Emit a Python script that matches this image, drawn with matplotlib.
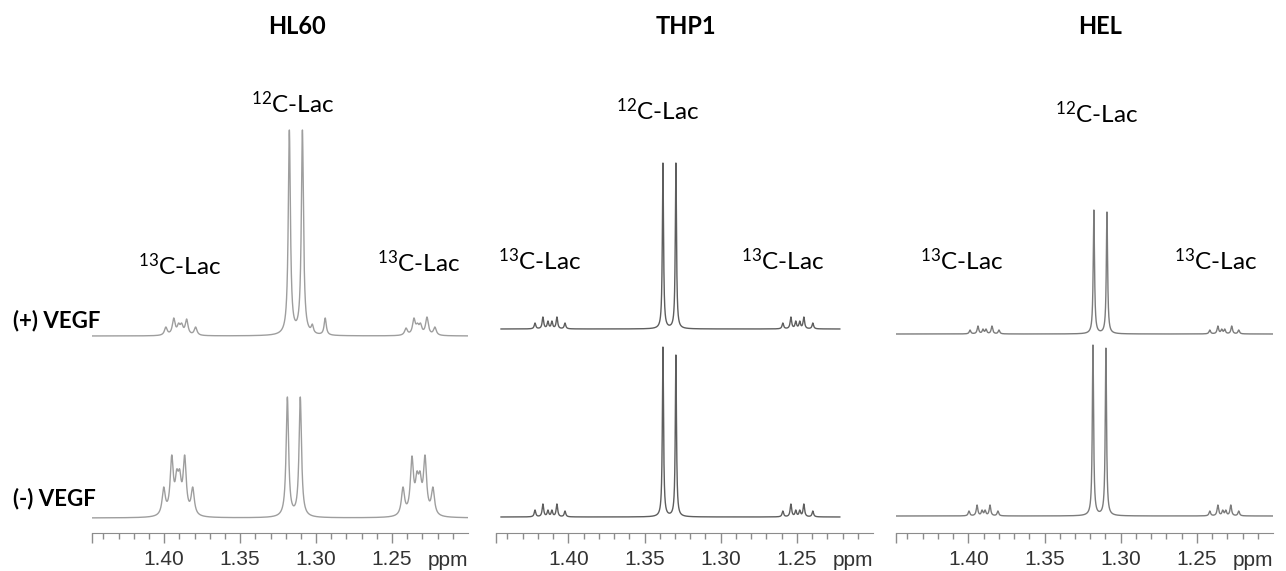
import numpy as np
import matplotlib.pyplot as plt
from matplotlib.ticker import FixedLocator, FixedFormatter

plt.rcParams['font.family'] = ['Lato', 'DejaVu Sans']
plt.rcParams['mathtext.fontset'] = 'custom'
plt.rcParams['mathtext.rm'] = 'Lato'

W, H = 1286, 571

# peak lists: chemical shift (ppm) and peak height
hl60_plus_ppm = [1.3989, 1.3937, 1.3905, 1.3885, 1.3852, 1.3793,
                 1.3176, 1.3090, 1.3025, 1.2940,
                 1.2408, 1.2356, 1.2333, 1.2313, 1.2270, 1.2218]
hl60_plus_h = [9, 18, 13, 13, 17, 9,
               206, 206, 12, 18,
               8, 18, 13, 13, 19, 9]

hl60_minus_ppm = [1.4003, 1.3950, 1.3917, 1.3898, 1.3865, 1.3812,
                  1.3189, 1.3104,
                  1.2428, 1.2369, 1.2336, 1.2316, 1.2283, 1.2231]
hl60_minus_h = [31, 63, 49, 49, 63, 31,
                121, 121,
                31, 62, 47, 47, 63, 31]

thp1_plus_ppm = [1.4219, 1.4167, 1.4134, 1.4108, 1.4075, 1.4022,
                 1.3379, 1.3294,
                 1.2592, 1.2539, 1.2507, 1.2481, 1.2454, 1.2395]
thp1_plus_h = [6, 12, 8, 8, 12, 6,
               166, 166,
               6, 12, 8, 8, 12, 6]

thp1_minus_ppm = thp1_plus_ppm
thp1_minus_h = [7, 13, 7, 7, 13, 6,
                170, 162,
                6, 13, 7, 7, 13, 6]

hel_plus_ppm = [1.3989, 1.3937, 1.3904, 1.3884, 1.3845, 1.3799,
                1.3176, 1.3090,
                1.2415, 1.2362, 1.2337, 1.2317, 1.2271, 1.2225]
hel_plus_h = [4, 8, 5, 5, 8, 4,
              124, 122,
              4, 8, 5, 5, 8, 4]

hel_minus_ppm = [1.3996, 1.3943, 1.3910, 1.3890, 1.3858, 1.3806,
                 1.3182, 1.3097,
                 1.2415, 1.2362, 1.2330, 1.2310, 1.2277, 1.2225]
hel_minus_h = [5, 11, 6, 6, 11, 5,
               171, 168,
               5, 11, 6, 6, 11, 5]

cell_lines = ['HL60', 'THP1', 'HEL']
tick_vals = [1.40, 1.35, 1.30, 1.25]


def lorentz(x, x0, hw):
    return hw**2 / ((x - x0)**2 + hw**2)


def spectrum(x, centers, heights, hw):
    # amplitudes chosen so the summed curve reaches the given heights
    c = np.asarray(centers)
    hw = np.asarray(hw, float)
    M = lorentz(c[:, None], c[None, :], hw[None, :])
    amp = np.linalg.solve(M, np.asarray(heights, float))
    return sum(a * lorentz(x, x0, w) for a, x0, w in zip(amp, c, hw))


def widths(centers, main, sat, lo=1.30, hi=1.345):
    # the 12C doublet is sharper than the 13C satellites
    return [main if lo - 0.01 < c < hi else sat for c in centers]


panels = [
    # x range in pixels, trace span, line colour, baselines
    dict(x0=92, x1=468, span=(1.4475, 1.200), color='#9e9e9e',
         traces=[(hl60_plus_ppm, hl60_plus_h, widths(hl60_plus_ppm, 0.00085, 0.0011), 197),
                 (hl60_minus_ppm, hl60_minus_h, widths(hl60_minus_ppm, 0.00098, 0.00125), 15)]),
    dict(x0=496, x1=873, span=(1.4442, 1.2218), color='#5e5e5e',
         traces=[(thp1_plus_ppm, thp1_plus_h, widths(thp1_plus_ppm, 0.00046, 0.0006), 204),
                 (thp1_minus_ppm, thp1_minus_h, widths(thp1_minus_ppm, 0.00046, 0.0006), 16)]),
    dict(x0=896, x1=1273, span=(1.4475, 1.200), color='#7c7c7c',
         traces=[(hel_plus_ppm, hel_plus_h, widths(hel_plus_ppm, 0.0005, 0.00062), 199),
                 (hel_minus_ppm, hel_minus_h, widths(hel_minus_ppm, 0.0005, 0.00062), 17)]),
]

fig = plt.figure(figsize=(W / 100, H / 100), dpi=100)
axis_y = 533

for p in panels:
    ax = fig.add_axes([p['x0'] / W, (H - axis_y) / H,
                       (p['x1'] - p['x0']) / W, axis_y / H])
    ax.set_xlim(1.4475, 1.200)
    ax.set_ylim(0, axis_y)
    ppm = np.linspace(p['span'][0], p['span'][1], 8000)
    for centers, heights, hw, base in p['traces']:
        ax.plot(ppm, base + spectrum(ppm, centers, heights, hw),
                color=p['color'], lw=1.0)
    for s in ['top', 'left', 'right']:
        ax.spines[s].set_visible(False)
    ax.spines['bottom'].set_color('#8c8c8c')
    ax.set_yticks([])
    ax.xaxis.set_major_locator(FixedLocator([1.4475] + tick_vals))
    ax.xaxis.set_major_formatter(FixedFormatter([''] + ['%.2f' % t for t in tick_vals]))
    ax.xaxis.set_minor_locator(FixedLocator(np.round(np.arange(1.21, 1.445, 0.01), 2)))
    ax.tick_params(axis='x', which='major', length=7, width=1, color='#8c8c8c',
                   pad=5, labelsize=15, labelcolor='#333333')
    ax.tick_params(axis='x', which='minor', length=4, width=1, color='#8c8c8c')
    for lab in ax.get_xticklabels():
        lab.set_family('Liberation Sans')
    fig.text(p['x1'] / W, 1 - 566 / H, 'ppm', ha='right', va='baseline',
             fontsize=15, color='#333333', family='Liberation Sans')


def ftext(x, y, s, **kw):
    fig.text(x / W, 1 - y / H, s, va='baseline', **kw)


for name, x in zip(cell_lines, [297, 686, 1100]):
    ftext(x, 34, name, ha='center', fontsize=17, fontweight='bold')

c12 = r'$\mathregular{^{12}}$C-Lac'
c13 = r'$\mathregular{^{13}}$C-Lac'
for x, y in [(293, 113), (658, 120), (1097, 123)]:
    ftext(x, y, c12, ha='center', fontsize=17.5)
for x, y in [(180, 275), (419, 272), (540, 270), (783, 270), (962, 270), (1216, 270)]:
    ftext(x, y, c13, ha='center', fontsize=17.5)

ftext(13, 327, '(+) VEGF', ha='left', fontsize=16, fontweight='bold')
ftext(13, 505, '(-) VEGF', ha='left', fontsize=16, fontweight='bold')

fig.savefig('out.png', dpi=100)
